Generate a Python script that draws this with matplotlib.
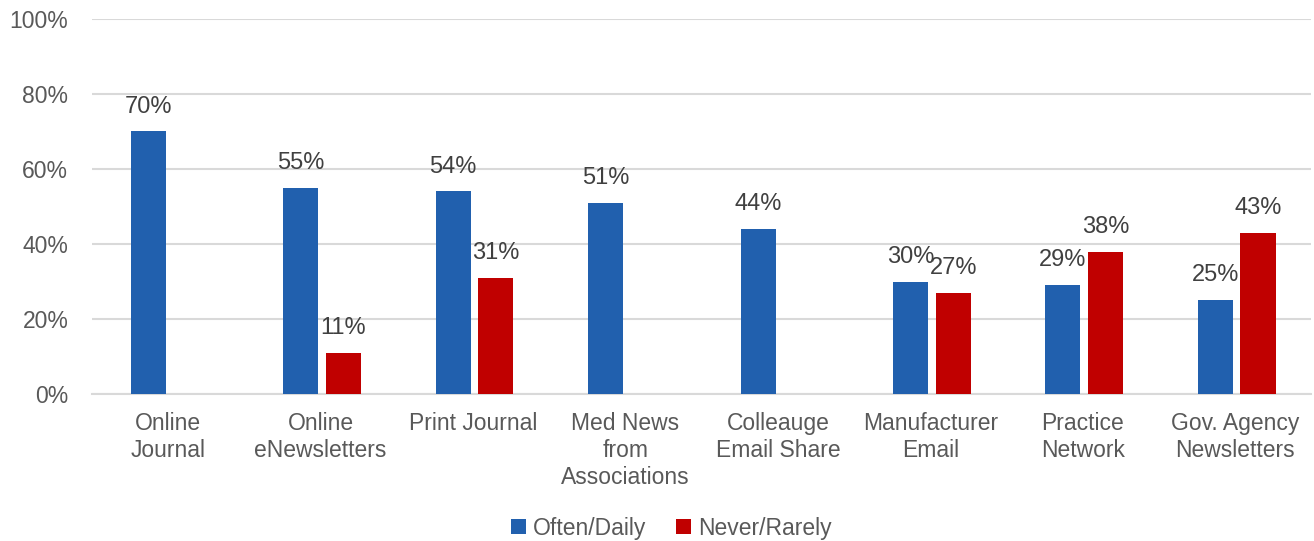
import matplotlib
matplotlib.use("Agg")
import matplotlib.pyplot as plt
import numpy as np

categories = ["Online\nJournal", "Online\neNewsletters", "Print Journal", "Med News\nfrom\nAssociations",
              "Colleauge\nEmail Share", "Manufacturer\nEmail", "Practice\nNetwork", "Gov. Agency\nNewsletters"]
often_daily = [70, 55, 54, 51, 44, 30, 29, 25]
never_rarely = [None, 11, 31, None, None, 27, 38, 43]
series_names = ["Often/Daily", "Never/Rarely"]
yticks = [0, 20, 40, 60, 80, 100]

plt.rcParams['font.family'] = ['Liberation Sans', 'DejaVu Sans']
fig = plt.figure(figsize=(13.14, 5.41), dpi=100)
ax = fig.add_axes([0.070, 0.2717, 0.928, 0.6932])

x = np.arange(len(categories))
w = 0.23
off = 0.14
shift = 0.01
blue = "#2160AE"
red = "#C00000"

b_vals = np.array(often_daily, dtype=float)
r_vals = np.array([np.nan if v is None else v for v in never_rarely], dtype=float)

xb = x - off + shift
xr = x + off + shift
ax.bar(xb, b_vals, w, color=blue, label=series_names[0], zorder=3)
ax.bar(xr, np.nan_to_num(r_vals), w, color=red, label=series_names[1], zorder=3)

for xi, v in zip(xb, b_vals):
    ax.annotate(f"{int(v)}%", (xi, v), xytext=(0, 10), textcoords="offset points",
                ha="center", va="bottom", fontsize=17, color="#404040")
for xi, v in zip(xr, r_vals):
    if not np.isnan(v):
        ax.annotate(f"{int(v)}%", (xi, v), xytext=(0, 10), textcoords="offset points",
                    ha="center", va="bottom", fontsize=17, color="#404040")

ax.set_xlim(-0.5, len(categories) - 0.5)
ax.set_ylim(0, 100)
ax.set_yticks(yticks)
ax.set_yticklabels([f"{t}%" for t in yticks], fontsize=16.5, color="#595959")
ax.set_xticks(x)
ax.set_xticklabels(categories, fontsize=16.5, color="#595959", linespacing=1.22, va="top")
ax.tick_params(axis="both", length=0)
ax.tick_params(axis="x", pad=13)
ax.tick_params(axis="y", pad=17)
ax.grid(axis="y", color="#D9D9D9", linewidth=1.5, zorder=0)
for s in ["top", "right", "left"]:
    ax.spines[s].set_visible(False)
ax.spines["bottom"].set_color("#D9D9D9")
ax.spines["bottom"].set_linewidth(1.5)

fig.legend(loc="center", bbox_to_anchor=(0.511, 0.024), ncol=2, frameon=False, fontsize=16.5,
           handlelength=0.65, handleheight=0.65, handletextpad=0.3, columnspacing=1.3,
           labelcolor="#595959")

fig.savefig("out.png", dpi=100)
